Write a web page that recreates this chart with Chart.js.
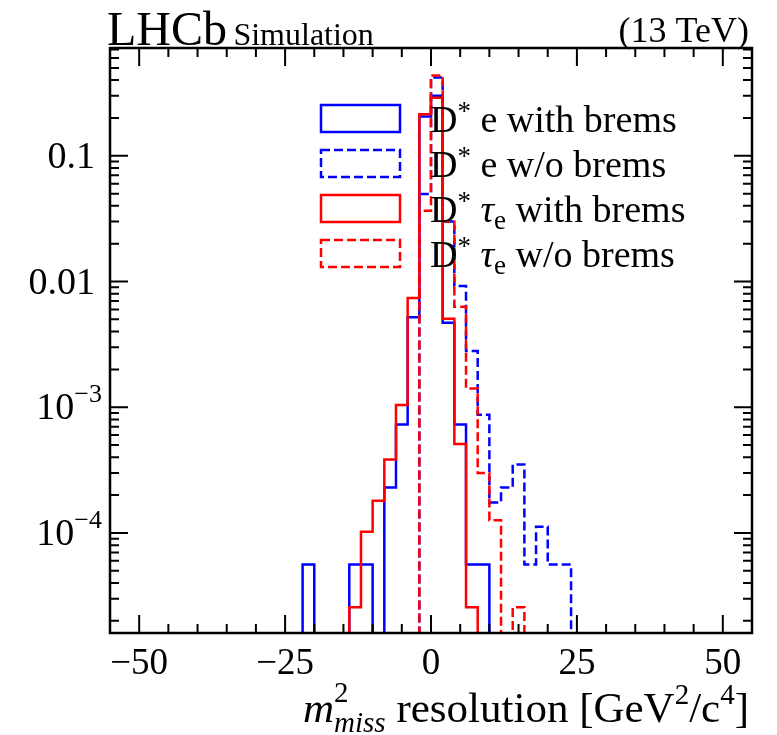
<!DOCTYPE html>
<html>
<head>
<meta charset="utf-8">
<script src="https://cdn.jsdelivr.net/npm/chart.js@4.4.1/dist/chart.umd.min.js"></script>
<style>
  html, body { margin: 0; padding: 0; background: #fff; }
  #wrap { width: 777px; height: 735px; }
</style>
</head>
<body>
<div id="wrap"><canvas id="chart" width="777" height="735"></canvas></div>
<script>
// bin edges of the m2 miss resolution histograms, width 2 GeV2/c4
const binEdges = [-24, -22, -20, -18, -16, -14, -12, -10, -8, -6, -4, -2, 0,
                  2, 4, 6, 8, 10, 12, 14, 16, 18, 20, 22, 24, 26];

// normalised bin contents (0 = empty bin)
const eWithBrems   = [0, 5.6e-5, 0, 0, 0, 5.6e-5, 5.6e-5, 0, 2.3e-4, 7.3e-4, 5.2e-3, 0.205, 0.30,
                      4.7e-3, 7.3e-4, 5.6e-5, 5.6e-5, 0, 0, 0, 0, 0, 0, 0, 0];
const eNoBrems     = [0, 0, 0, 0, 0, 0, 0, 0, 0, 0, 0, 0.0497, 0.42,
                      0.030, 9.2e-3, 2.8e-3, 8.7e-4, 1.75e-4, 2.3e-4, 3.5e-4, 5.6e-5, 1.12e-4, 5.6e-5, 5.6e-5, 0];
const tauWithBrems = [0, 0, 0, 0, 0, 2.56e-5, 1.02e-4, 1.8e-4, 3.84e-4, 1.04e-3, 7.4e-3, 0.214, 0.29,
                      5.06e-3, 5.1e-4, 2.56e-5, 0, 0, 0, 0, 0, 0, 0, 0, 0];
const tauNoBrems   = [0, 0, 0, 0, 0, 0, 0, 0, 0, 0, 0, 0.0365, 0.435,
                      0.030, 6.3e-3, 1.41e-3, 3.0e-4, 1.26e-4, 0, 2.56e-5, 0, 0, 0, 0, 0];

const xTickValues = [-50, -25, 0, 25, 50];
const yTickValues = [1e-4, 1e-3, 0.01, 0.1];
const yTickLabels = [['10', '\u22124'], ['10', '\u22123'], ['0.01', ''], ['0.1', '']];

const SERIF = '"Liberation Serif", "DejaVu Serif", serif';
const FLOOR = 1e-7; // empty bins drop below the axis

function stepPoints(vals) {
  const pts = [{ x: binEdges[0], y: FLOOR }];
  vals.forEach((v, i) => pts.push({ x: binEdges[i], y: v > 0 ? v : FLOOR }));
  pts.push({ x: binEdges[binEdges.length - 1], y: FLOOR });
  return pts;
}

// draws a list of text runs: [text, size, dy, style, noAdvance]
function drawRuns(ctx, x, y, runs, align) {
  let total = 0;
  runs.forEach(r => {
    ctx.font = `${r[3] || ''} ${r[1]}px ${SERIF}`;
    if (!r[4]) total += ctx.measureText(r[0]).width;
  });
  if (align === 'right') x -= total;
  ctx.textAlign = 'left';
  ctx.textBaseline = 'alphabetic';
  runs.forEach(r => {
    ctx.font = `${r[3] || ''} ${r[1]}px ${SERIF}`;
    ctx.fillText(r[0], x, y + (r[2] || 0));
    if (!r[4]) x += ctx.measureText(r[0]).width;
  });
}

const legendRows = [
  { ds: 0, tau: false, tail: ' with brems' },
  { ds: 1, tau: false, tail: ' w/o brems' },
  { ds: 2, tau: true, tail: ' with brems' },
  { ds: 3, tau: true, tail: ' w/o brems' }
];

const lhcbFrame = {
  id: 'lhcbFrame',
  afterDraw(chart) {
    const { ctx, chartArea: a, scales: { x, y } } = chart;
    ctx.save();
    ctx.strokeStyle = '#000';
    ctx.fillStyle = '#000';
    ctx.lineWidth = 2.5;
    ctx.setLineDash([]);
    ctx.strokeRect(a.left, a.top, a.right - a.left, a.bottom - a.top);

    // inward ticks
    ctx.lineWidth = 2;
    ctx.beginPath();
    for (let v = -50; v <= 50; v += 5) {
      const px = x.getPixelForValue(v);
      const len = v % 25 === 0 ? 18 : 9;
      ctx.moveTo(px, a.bottom); ctx.lineTo(px, a.bottom - len);
      ctx.moveTo(px, a.top); ctx.lineTo(px, a.top + len);
    }
    for (let d = -5; d <= 0; d++) {
      for (let m = 1; m <= 9; m++) {
        const v = m * Math.pow(10, d);
        if (v < y.min || v > y.max) continue;
        const py = y.getPixelForValue(v);
        const len = m === 1 ? 18 : 9;
        ctx.moveTo(a.left, py); ctx.lineTo(a.left + len, py);
        ctx.moveTo(a.right, py); ctx.lineTo(a.right - len, py);
      }
    }
    ctx.stroke();

    // y tick labels
    yTickValues.forEach((v, i) => {
      const py = y.getPixelForValue(v);
      const [base, sup] = yTickLabels[i];
      const runs = [[base, 38, 0]];
      if (sup) runs.push([sup, 26, -17]);
      drawRuns(ctx, sup ? 102 : 95, py + 12, runs, 'right');
    });

    // header
    drawRuns(ctx, 107, 45, [['LHCb', 48, 0], ['\u2009Simulation', 32, 0]]);
    drawRuns(ctx, 749, 42, [['(13 TeV)', 36, 0]], 'right');

    // x axis title
    drawRuns(ctx, 749, 722, [
      ['m', 43, 0, 'italic'],
      ['2', 29, -20, '', true],
      ['miss', 29, 10, 'italic'],
      [' resolution [GeV', 43, 0],
      ['2', 29, -18],
      ['/c', 43, 0],
      ['4', 29, -18],
      [']', 43, 0]
    ], 'right');

    // legend
    legendRows.forEach((row, i) => {
      const ds = chart.data.datasets[row.ds];
      const top = 105 + i * 45;
      ctx.lineWidth = 2.5;
      ctx.strokeStyle = ds.borderColor;
      ctx.setLineDash(ds.borderDash || []);
      ctx.strokeRect(321, top, 79, 27);
      ctx.setLineDash([]);
      const runs = [['D', 38, 0], ['*', 27, -12]];
      if (row.tau) runs.push([' ', 38, 0], ['\u03c4', 38, 0, 'italic'], ['e', 27, 7]);
      else runs.push([' e', 38, 0]);
      runs.push([row.tail, 38, 0]);
      drawRuns(ctx, 430, top + 27, runs);
    });
    ctx.restore();
  }
};

const lineStyle = { borderWidth: 2.5, stepped: 'before', pointRadius: 0, fill: false, tension: 0 };

new Chart(document.getElementById('chart'), {
  type: 'line',
  data: {
    datasets: [
      { label: 'D* e with brems', data: stepPoints(eWithBrems), borderColor: '#0000ff', order: 4, ...lineStyle },
      { label: 'D* e w/o brems', data: stepPoints(eNoBrems), borderColor: '#0000ff', borderDash: [9, 4], order: 3, ...lineStyle },
      { label: 'D* tau_e with brems', data: stepPoints(tauWithBrems), borderColor: '#ff0000', order: 2, ...lineStyle },
      { label: 'D* tau_e w/o brems', data: stepPoints(tauNoBrems), borderColor: '#ff0000', borderDash: [9, 4], order: 1, ...lineStyle }
    ]
  },
  options: {
    responsive: false,
    animation: false,
    devicePixelRatio: 1,
    layout: { padding: { left: 0, right: 25, top: 48, bottom: 0 } },
    plugins: { legend: { display: false }, tooltip: { enabled: false } },
    scales: {
      x: {
        type: 'linear',
        min: -55,
        max: 55,
        afterBuildTicks: s => { s.ticks = xTickValues.map(v => ({ value: v })); },
        afterFit: s => { s.height = 102; },
        ticks: {
          callback: v => (v < 0 ? '\u2212' + Math.abs(v) : String(v)),
          font: { family: SERIF, size: 37 },
          color: '#000',
          padding: 9,
          maxRotation: 0,
          autoSkip: false
        },
        grid: { display: false, drawTicks: false },
        border: { display: false }
      },
      y: {
        type: 'logarithmic',
        min: 1.6e-5,
        max: 0.72,
        afterBuildTicks: s => { s.ticks = yTickValues.map(v => ({ value: v })); },
        afterFit: s => { s.width = 110; },
        ticks: { display: false },
        grid: { display: false, drawTicks: false },
        border: { display: false }
      }
    }
  },
  plugins: [lhcbFrame]
});
</script>
</body>
</html>
